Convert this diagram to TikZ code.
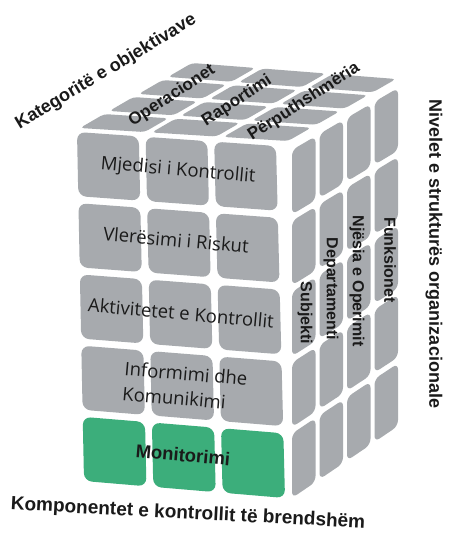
\documentclass[tikz,border=0pt]{standalone}
\usepackage{fontspec}
\setmainfont{Open Sans}
\newfontfamily\boldlab{Liberation Sans}
\usetikzlibrary{calc}
\definecolor{tilegray}{HTML}{A7AAAE}
\definecolor{tilegreen}{HTML}{3CAE7B}
\definecolor{ink}{HTML}{1A1A1A}
\tikzset{
  axislab/.style={font=\boldlab\bfseries\fontsize{18}{20}\selectfont, text=ink, inner sep=0pt},
  toplab/.style={font=\boldlab\bfseries\fontsize{17}{18}\selectfont, text=ink, inner sep=0pt, rotate=33},
  sidelab/.style={font=\boldlab\bfseries\fontsize{16}{18}\selectfont, text=ink, inner sep=0pt, rotate=-90},
  frontlab/.style={font=\fontsize{18.5}{25}\selectfont, text=ink, inner sep=0pt, rotate=-5},
}
\newcommand\greenrow{-1}
\newcommand\tilerad{6pt}
\newcommand\drawface[8]{%
  \pgfmathtruncatemacro\nxm{#5-1}%
  \pgfmathtruncatemacro\nym{#6-1}%
  \foreach \i in {0,...,\nxm} {
    \foreach \j in {0,...,\nym} {
      \pgfmathsetmacro\sa{\i*(1+#7)/(#5+(#5-1)*#7)}
      \pgfmathsetmacro\sb{(\i*(1+#7)+1)/(#5+(#5-1)*#7)}
      \pgfmathsetmacro\ta{\j*(1+#8)/(#6+(#6-1)*#8)}
      \pgfmathsetmacro\tb{(\j*(1+#8)+1)/(#6+(#6-1)*#8)}
      \coordinate (ua) at ($(#1)!\sa!(#2)$);
      \coordinate (ub) at ($(#1)!\sb!(#2)$);
      \coordinate (la) at ($(#3)!\sa!(#4)$);
      \coordinate (lb) at ($(#3)!\sb!(#4)$);
      \coordinate (c1) at ($(ua)!\ta!(la)$);
      \coordinate (c2) at ($(ub)!\ta!(lb)$);
      \coordinate (c3) at ($(ub)!\tb!(lb)$);
      \coordinate (c4) at ($(ua)!\tb!(la)$);
      \ifnum\j=\greenrow
        \fill[tilegreen, rounded corners=\tilerad] (c1)--(c2)--(c3)--(c4)--cycle;
      \else
        \fill[tilegray, rounded corners=\tilerad] (c1)--(c2)--(c3)--(c4)--cycle;
      \fi
    }
  }%
}
\begin{document}
\begin{tikzpicture}[x=1pt, y=-1pt]
\fill[white] (0,0) rectangle (458,540);
\useasboundingbox (0,0) rectangle (458,540);
% face corners
\coordinate (TBL) at (192,63);
\coordinate (TBR) at (396,79);
\coordinate (TFL) at (80,128);
\coordinate (TFR) at (288,141);
\coordinate (FTL) at (77,132);
\coordinate (FTR) at (276,146);
\coordinate (FBL) at (84,481);
\coordinate (FBR) at (285,498);
\coordinate (STL) at (292,150);
\coordinate (STR) at (398,88);
\coordinate (SBL) at (292,498);
\coordinate (SBR) at (398,426);
% top face
\renewcommand\tilerad{4pt}
\drawface{TBL}{TBR}{TFL}{TFR}{3}{4}{0.11}{0.22}
% right face
\renewcommand\tilerad{6pt}
\drawface{STL}{STR}{SBL}{SBR}{4}{5}{0.17}{0.1}
% front face
\renewcommand\tilerad{8pt}
\renewcommand\greenrow{4}
\drawface{FTL}{FTR}{FBL}{FBR}{3}{5}{0.11}{0.11}
% labels
\node[axislab, rotate=31] (kat) at (106,72) {Kategoritë e objektivave};
\node[toplab] (ope) at (172,96) {Operacionet};
\node[toplab] (rap) at (237,101) {Raportimi};
\node[toplab] (per) at (304,102) {Përputhshmëria};
\node[frontlab] (mje) at (178,171) {Mjedisi i Kontrollit};
\node[frontlab] (vle) at (176,240) {Vlerësimi i Riskut};
\node[frontlab] (akt) at (181,313) {Aktivitetet e Kontrollit};
\node[frontlab, align=left] (inf) at (185,386) {Informimi dhe\\Komunikimi};
\node[frontlab, font=\boldlab\bfseries\fontsize{18.5}{20}\selectfont] (mon) at (183,455) {Monitorimi};
\node[sidelab] (sub) at (305,313) {Subjekti};
\node[sidelab] (dep) at (331,289) {Departamenti};
\node[sidelab] (nje) at (357,281) {Njësia e Operimit};
\node[sidelab] (fun) at (390,260) {Funksionet};
\node[axislab, rotate=-90] (niv) at (434,254) {Nivelet e strukturës organizacionale};
\node[axislab, rotate=-3, font=\boldlab\bfseries\fontsize{19}{20}\selectfont] (kom) at (188,514) {Komponentet e kontrollit të brendshëm};
\end{tikzpicture}
\end{document}
